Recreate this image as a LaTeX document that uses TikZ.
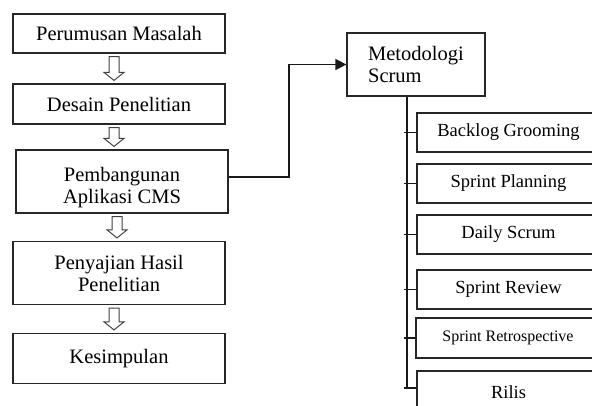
\documentclass[tikz,border=0pt]{standalone}
\usepackage{fontspec}
\setmainfont{Liberation Serif}
\usetikzlibrary{calc,arrows.meta}
\tikzset{
  mainbox/.style={draw=black!85, line width=1.2pt, inner sep=0pt, minimum width=212pt, align=center,
    font=\fontsize{20.5}{22}\selectfont},
  maintext/.style={inner sep=0pt, align=center, font=\fontsize{20.5}{22}\selectfont},
  subbox/.style={draw=black!85, line width=1.2pt, inner sep=0pt, minimum width=183pt, minimum height=39pt,
    font=\fontsize{18.5}{22}\selectfont},
  conn/.style={draw=black!90, line width=1.4pt},
  blockarr/.style={draw=black!75, line width=1pt, fill=white},
}
\newcommand\blockarrow[2]{%
  \draw[blockarr] let \p1=($(#1.south)+(-5,0)$), \p2=($(#2.north)+(-5,0)$) in
    (\x1-5pt,\y1-3pt) -- (\x1+5pt,\y1-3pt) -- (\x1+5pt,\y2+11pt) -- (\x1+10pt,\y2+11pt)
    -- (\x1,\y2+3pt) -- (\x1-10pt,\y2+11pt) -- (\x1-5pt,\y2+11pt) -- cycle;}
\begin{document}
\begin{tikzpicture}[x=1pt,y=-1pt]
\useasboundingbox[fill=white] (0,0) rectangle (592,405);
\clip (0,0) rectangle (592,405);
% left column
\node[mainbox, minimum height=39pt] (perum) at (119,33.5) {Perumusan Masalah};
\node[mainbox, minimum height=40pt] (desain) at (119,104) {Desain Penelitian};
\node[mainbox, minimum height=63pt] (pemb) at (122,181.5) {};
\node[maintext] (pembtext) at (122,188) {Pembangunan\\Aplikasi CMS};
\node[mainbox, minimum height=63pt] (peny) at (119,273) {Penyajian Hasil\\Penelitian};
\node[mainbox, minimum height=50pt] (kes) at (119,358.5) {Kesimpulan};
\blockarrow{perum}{desain}
\blockarrow{desain}{pemb}
\blockarrow{pemb}{peny}
\blockarrow{peny}{kes}
% right side
\node[mainbox, minimum width=138pt, minimum height=63pt, align=left] (meto) at (416,64.5) {Metodologi\\Scrum};
\node[subbox] (bg) at (508.5,132.5) {Backlog Grooming};
\node[subbox] (sp) at (508.5,183.5) {Sprint Planning};
\node[subbox] (ds) at (508.5,234.5) {Daily Scrum};
\node[subbox] (sr) at (508.5,289.5) {Sprint Review};
\node[subbox, minimum width=184pt, minimum height=40pt, font=\fontsize{16}{20}\selectfont] (sret) at (508,338) {Sprint Retrospective};
\node[subbox, minimum height=42pt] (rilis) at (508.5,392) {Rilis};
% connector to Metodologi
\coordinate (bend) at (289,0);
\draw[conn, -{Triangle[length=11pt,width=11pt]}] ($(pemb.east)+(0,-4.5)$) -| (bend |- meto.west) -- (meto.west);
% trunk
\coordinate (trunk) at (407,0);
\coordinate (rilisin) at ($(rilis.west)+(0,-4)$);
\draw[conn] (trunk |- meto.south) -- (trunk |- rilisin) -- (rilisin);
\foreach \b in {bg,sp,ds,sr,sret}{
  \draw[conn] ($(trunk |- \b.west)+(-3,0)$) -- (\b.west);
}
\draw[conn] ($(trunk |- rilisin)+(-3,0)$) -- (trunk |- rilisin);
\end{tikzpicture}
\end{document}
